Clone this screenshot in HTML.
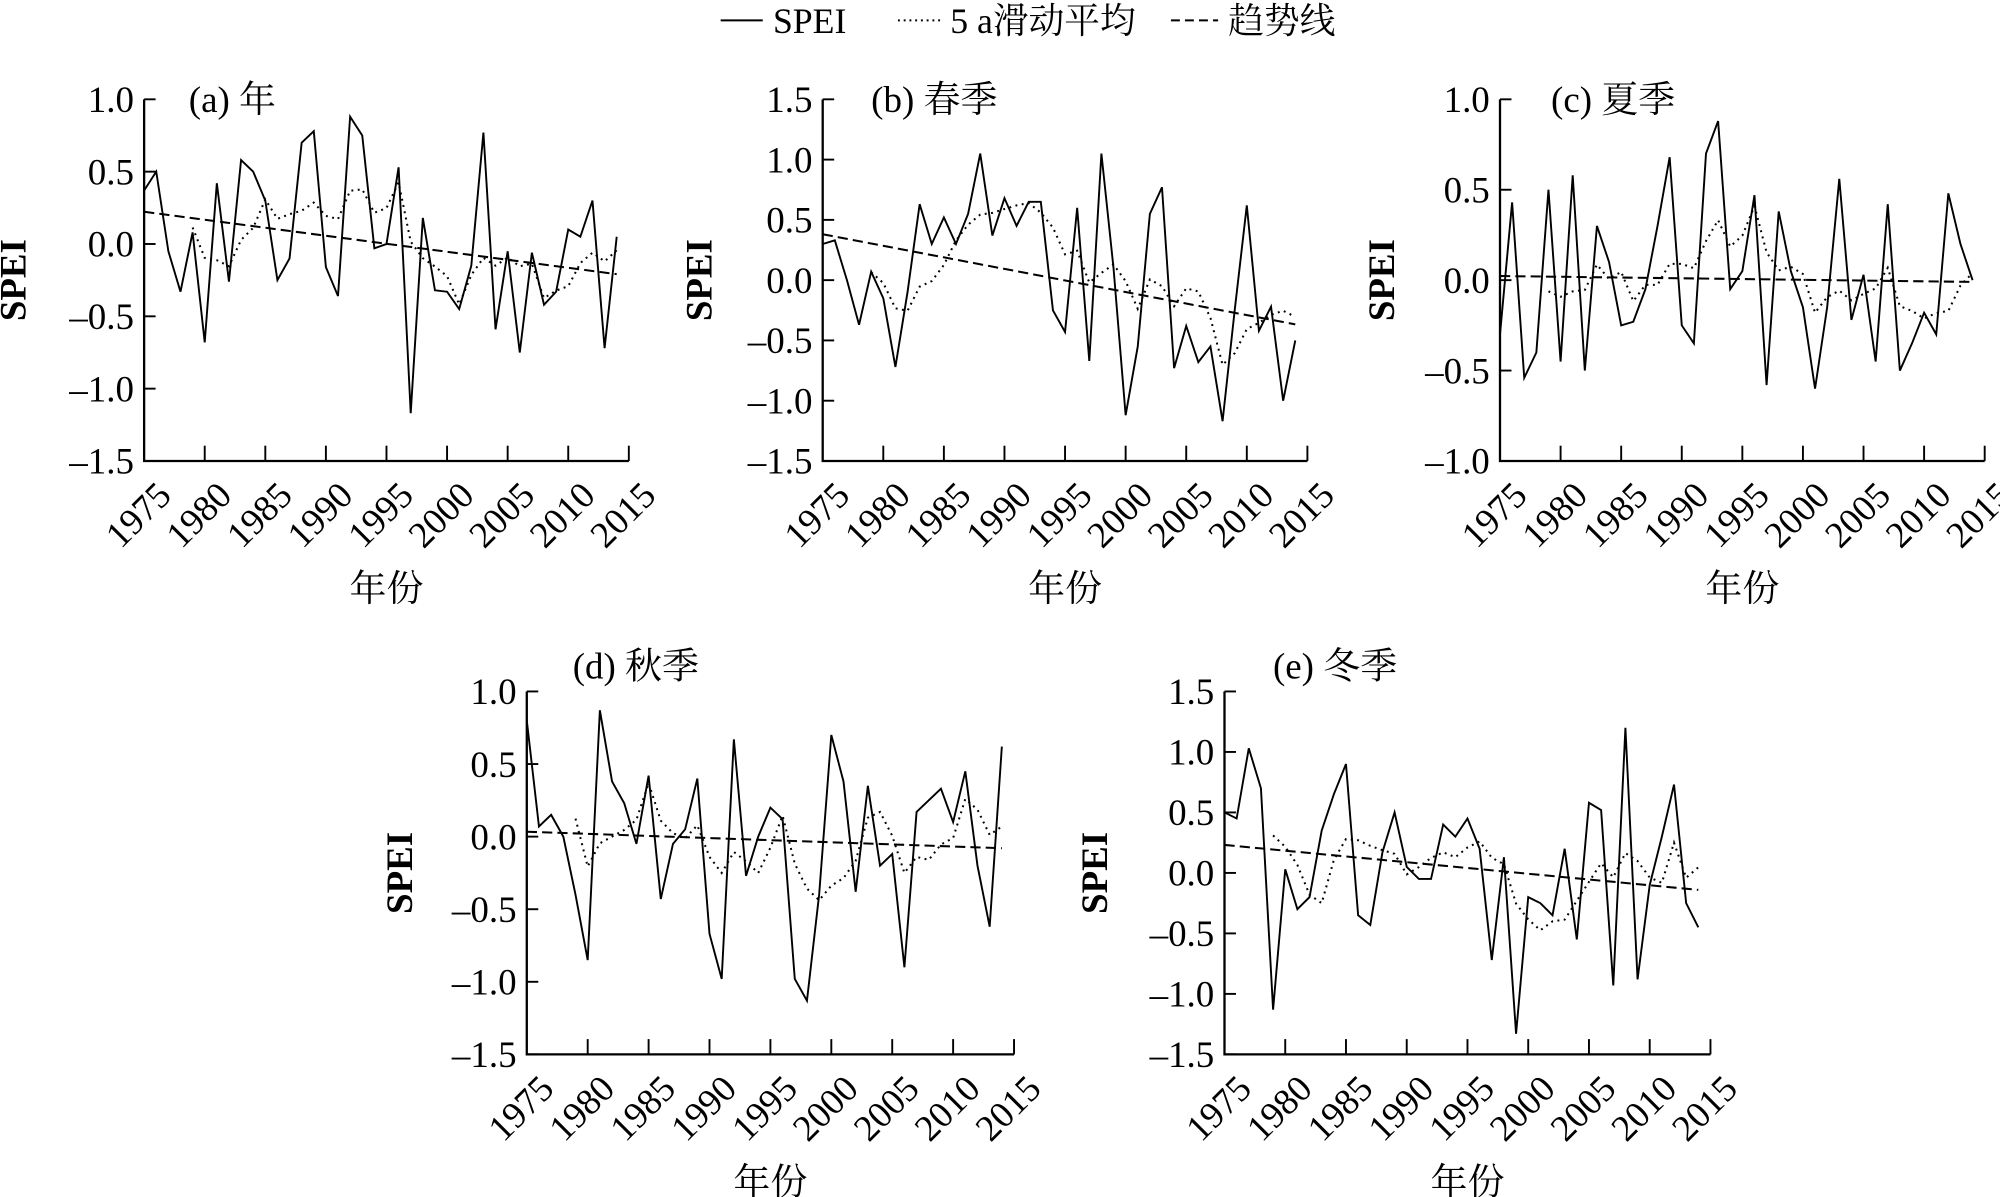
<!DOCTYPE html>
<html><head><meta charset="utf-8">
<style>
html,body{margin:0;padding:0;background:#fff;}
svg{display:block;}
text{font-family:"Liberation Serif","Noto Serif CJK SC",serif;fill:#000;}
</style></head>
<body>
<svg id="s" width="2000" height="1197" viewBox="0 0 1568 940" preserveAspectRatio="none" xmlns="http://www.w3.org/2000/svg">
<rect width="1568" height="940" fill="#fff"/>
<g stroke="#000" stroke-width="1.6">
<line x1="565" y1="16" x2="598" y2="16"/>
<line x1="704" y1="16" x2="737" y2="16" stroke-dasharray="1.5,3"/>
<line x1="918" y1="16" x2="955" y2="16" stroke-dasharray="7,4"/>
</g>
<text x="606" y="26" font-size="28">SPEI</text>
<text x="745" y="26" font-size="28">5 a滑动平均</text>
<text x="963" y="26" font-size="28">趋势线</text>
</svg>
<script>
const S=document.getElementById('s');
function add(h){S.insertAdjacentHTML('beforeend',h);}
const P=[
{L:113,R:493,T:78,B:362,max:1.0,min:-1.5,lab:'(a) 年',lx:148,ly:88,sx:10,
d:[0.37,0.5,-0.05,-0.33,0.08,-0.68,0.42,-0.26,0.58,0.5,0.3,-0.25,-0.1,0.7,0.78,-0.16,-0.36,0.88,0.75,-0.03,0.0,0.53,-1.17,0.18,-0.32,-0.33,-0.45,-0.15,0.77,-0.59,-0.05,-0.75,-0.06,-0.42,-0.33,0.1,0.05,0.3,-0.72,0.05]},
{L:645,R:1025,T:78,B:362,max:1.5,min:-1.5,lab:'(b) 春季',lx:683,ly:88,sx:548,
d:[0.3,0.33,0.0,-0.37,0.07,-0.15,-0.72,-0.1,0.63,0.3,0.52,0.3,0.55,1.05,0.37,0.68,0.45,0.65,0.65,-0.25,-0.43,0.6,-0.67,1.05,0.1,-1.12,-0.55,0.55,0.77,-0.73,-0.38,-0.68,-0.55,-1.17,-0.25,0.62,-0.42,-0.22,-1.0,-0.5]},
{L:1176,R:1556,T:78,B:362,max:1.0,min:-1.0,lab:'(c) 夏季',lx:1216,ly:88,sx:1083,
d:[-0.3,0.43,-0.54,-0.4,0.5,-0.45,0.58,-0.5,0.3,0.1,-0.25,-0.23,-0.05,0.3,0.68,-0.25,-0.35,0.7,0.88,-0.05,0.05,0.47,-0.58,0.38,0.05,-0.15,-0.6,-0.15,0.56,-0.22,0.03,-0.45,0.42,-0.5,-0.35,-0.18,-0.3,0.48,0.2,0.0]},
{L:413,R:795,T:543,B:828,max:1.0,min:-1.5,lab:'(d) 秋季',lx:449,ly:533,sx:313,
d:[0.8,0.07,0.15,0.0,-0.4,-0.85,0.87,0.38,0.23,-0.05,0.42,-0.43,-0.05,0.05,0.4,-0.67,-0.98,0.67,-0.27,0.0,0.2,0.12,-0.98,-1.13,-0.4,0.7,0.38,-0.38,0.35,-0.2,-0.12,-0.9,0.17,0.25,0.33,0.1,0.45,-0.2,-0.62,0.62]},
{L:960,R:1341,T:543,B:828,max:1.5,min:-1.5,lab:'(e) 冬季',lx:998,ly:533,sx:858,
d:[0.5,0.45,1.03,0.7,-1.13,0.03,-0.3,-0.2,0.35,0.65,0.9,-0.35,-0.43,0.17,0.5,0.05,-0.05,-0.05,0.4,0.3,0.45,0.2,-0.72,0.13,-1.33,-0.2,-0.25,-0.35,0.2,-0.55,0.58,0.52,-0.93,1.2,-0.88,-0.1,0.3,0.73,-0.25,-0.45]}
];
P.forEach(p=>{
 const step=(p.R-p.L)/40;
 const X=i=>p.L+i*step;
 const Y=v=>p.T+(p.max-v)/(p.max-p.min)*(p.B-p.T);
 let h='';
 h+=`<path d="M${p.L},${p.T}V${p.B}H${p.R}" fill="none" stroke="#000" stroke-width="1.8"/>`;
 for(let v=p.max;v>=p.min-1e-6;v-=0.5){
  const y=Y(v);
  h+=`<line x1="${p.L}" y1="${y}" x2="${p.L+9}" y2="${y}" stroke="#000" stroke-width="1.5"/>`;
  const t=(v<0?'\u2013':'')+Math.abs(v).toFixed(1);
  h+=`<text x="${p.L-8}" y="${y+10}" font-size="29" text-anchor="end">${t}</text>`;
 }
 for(let k=0;k<=8;k++){
  const x=p.L+k*5*step;
  if(k>0)h+=`<line x1="${x}" y1="${p.B}" x2="${x}" y2="${p.B-12}" stroke="#000" stroke-width="1.5"/>`;
  h+=`<text transform="translate(${x+8},${p.B+14}) rotate(-45)" font-size="29" text-anchor="end" dominant-baseline="hanging">${1975+5*k}</text>`;
 }
 h+=`<text x="${(p.L+p.R)/2}" y="${p.B+110}" font-size="29" text-anchor="middle">年份</text>`;
 h+=`<text transform="translate(${p.sx+10},${(p.T+p.B)/2}) rotate(-90)" font-size="29" text-anchor="middle" font-weight="bold">SPEI</text>`;
 h+=`<text x="${p.lx}" y="${p.ly}" font-size="29">${p.lab}</text>`;
 const d=p.d;
 h+=`<polyline fill="none" stroke="#000" stroke-width="1.5" points="${d.map((v,i)=>X(i)+','+Y(v)).join(' ')}"/>`;
 let ma=[];for(let i=4;i<d.length;i++){let s=0;for(let j=i-4;j<=i;j++)s+=d[j];ma.push(X(i)+','+Y(s/5));}
 h+=`<polyline fill="none" stroke="#000" stroke-width="1.6" stroke-dasharray="1.5,3.5" points="${ma.join(' ')}"/>`;
 const n=d.length;let mx=(n-1)/2,my=d.reduce((a,b)=>a+b)/n,sxy=0,sxx=0;
 d.forEach((v,i)=>{sxy+=(i-mx)*(v-my);sxx+=(i-mx)*(i-mx);});
 const b=sxy/sxx,a=my-b*mx;
 h+=`<line x1="${X(0)}" y1="${Y(a)}" x2="${X(n-1)}" y2="${Y(a+b*(n-1))}" stroke="#000" stroke-width="1.6" stroke-dasharray="8,4"/>`;
 add(h);
});
</script>
</body></html>
